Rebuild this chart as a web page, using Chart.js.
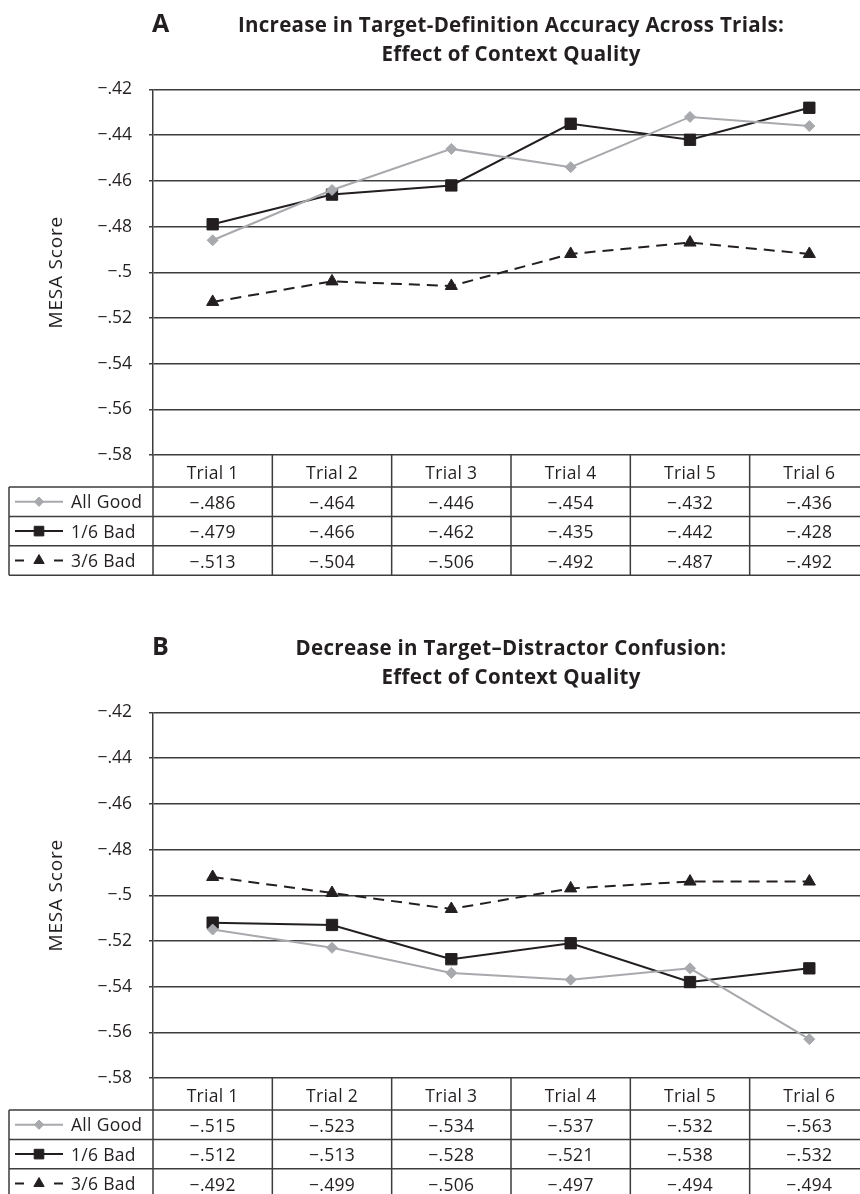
<!DOCTYPE html>
<html>
<head>
<meta charset="utf-8">
<script src="https://cdn.jsdelivr.net/npm/chart.js@4.4.1/dist/chart.umd.min.js"></script>
<style>
  html, body { margin: 0; padding: 0; background: #fff; overflow: hidden; }
  #page { width: 860px; height: 1194px; overflow: hidden; position: relative; }
  .panel { position: absolute; left: 0; width: 880px; }
  #panel-a { top: 0; }
  #panel-b { top: 623px; }
</style>
</head>
<body>
<div id="page">
  <div class="panel" id="panel-a"><canvas id="chart-a" width="880" height="623"></canvas></div>
  <div class="panel" id="panel-b"><canvas id="chart-b" width="880" height="615"></canvas></div>
</div>
<script>
const trials = ["Trial 1", "Trial 2", "Trial 3", "Trial 4", "Trial 5", "Trial 6"];
const seriesNames = ["All Good", "1/6 Bad", "3/6 Bad"];

// panel A: target-definition accuracy
const allGoodA = [-0.486, -0.464, -0.446, -0.454, -0.432, -0.436];
const oneBadA = [-0.479, -0.466, -0.462, -0.435, -0.442, -0.428];
const threeBadA = [-0.513, -0.504, -0.506, -0.492, -0.487, -0.492];

// panel B: target-distractor confusion
const allGoodB = [-0.515, -0.523, -0.534, -0.537, -0.532, -0.563];
const oneBadB = [-0.512, -0.513, -0.528, -0.521, -0.538, -0.532];
const threeBadB = [-0.492, -0.499, -0.506, -0.497, -0.494, -0.494];

const yMin = -0.58, yMax = -0.42, yStep = 0.02;
const yTitle = "MESA Score";

const INK = "#231f20";
const GRAY = "#a7a9ac";
const RULE = "#3d3d3d";
const FONT = "'Open Sans', Lato, sans-serif";

function fmtScore(v) {
  const s = (Math.round(v * 1000) / 1000).toString();
  return s.replace(/^-0\./, "\u2212.").replace(/^0\./, ".");
}

function makeDatasets(good, one, three) {
  return [
    {
      label: seriesNames[0], data: good,
      borderColor: GRAY, backgroundColor: GRAY, borderWidth: 2,
      pointStyle: "rectRot", pointRadius: 5.5, pointBorderWidth: 1,
    },
    {
      label: seriesNames[1], data: one,
      borderColor: INK, backgroundColor: INK, borderWidth: 2,
      pointStyle: "rect", pointRadius: 8, pointBorderWidth: 1,
    },
    {
      label: seriesNames[2], data: three,
      borderColor: INK, backgroundColor: INK, borderWidth: 2, borderDash: [11, 7],
      pointStyle: "triangle", pointRadius: 7, pointBorderWidth: 1,
    },
  ];
}

// title, y title and the data table under the plot
const panelDecor = {
  id: "panelDecor",
  afterDraw(chart, args, opts) {
    const { ctx, chartArea: ca } = chart;
    const n = chart.data.labels.length;
    const binW = (ca.right - ca.left) / n;
    const headBot = ca.bottom + 32;
    const rowH = 29.4;
    const dsets = chart.data.datasets;
    const tableBot = headBot + rowH * dsets.length;

    ctx.save();
    ctx.fillStyle = INK;
    ctx.textBaseline = "alphabetic";

    ctx.font = `bold 25px ${FONT}`;
    ctx.textAlign = "left";
    ctx.fillText(opts.letter, 152, 32);

    ctx.font = `bold 20.5px ${FONT}`;
    ctx.textAlign = "center";
    ctx.letterSpacing = "0.3px";
    const cx = (ca.left + ca.right) / 2;
    opts.title.forEach((line, i) => ctx.fillText(line, cx, 32 + i * 28.5));

    ctx.save();
    ctx.font = `19px ${FONT}`;
    ctx.letterSpacing = "0.8px";
    ctx.translate(57, (ca.top + ca.bottom) / 2);
    ctx.rotate(-Math.PI / 2);
    ctx.textBaseline = "middle";
    ctx.fillText(yTitle, 0, 0);
    ctx.restore();

    // table rules
    ctx.strokeStyle = RULE;
    ctx.lineWidth = 1.5;
    ctx.beginPath();
    for (let r = 0; r <= dsets.length; r++) {
      const y = headBot + r * rowH;
      ctx.moveTo(9, y);
      ctx.lineTo(ca.right, y);
    }
    ctx.moveTo(9, headBot);
    ctx.lineTo(9, tableBot);
    for (let i = 0; i <= n; i++) {
      const x = ca.left + i * binW;
      ctx.moveTo(x, ca.bottom);
      ctx.lineTo(x, tableBot);
    }
    ctx.stroke();

    // header and values
    ctx.font = `17.5px ${FONT}`;
    ctx.letterSpacing = "0.3px";
    ctx.textAlign = "center";
    const xs = chart.scales.x;
    chart.data.labels.forEach((lab, i) => {
      ctx.fillText(lab, xs.getPixelForValue(i), ca.bottom + 23.5);
    });
    dsets.forEach((ds, r) => {
      const base = headBot + r * rowH + 22;
      ds.data.forEach((v, i) => ctx.fillText(fmtScore(v), xs.getPixelForValue(i), base));
    });

    // legend column
    dsets.forEach((ds, r) => {
      const mid = headBot + r * rowH + rowH / 2;
      ctx.save();
      ctx.strokeStyle = ds.borderColor;
      ctx.lineWidth = 2;
      ctx.setLineDash(ds.borderDash ? [9, 30] : []);
      ctx.beginPath();
      ctx.moveTo(15, mid);
      ctx.lineTo(63, mid);
      ctx.stroke();
      ctx.setLineDash([]);
      ctx.fillStyle = ds.backgroundColor;
      ctx.lineWidth = 1;
      Chart.helpers.drawPoint(ctx, {
        pointStyle: ds.pointStyle, radius: ds.pointRadius * 0.85, rotation: 0, borderWidth: 1,
      }, 39, mid);
      ctx.restore();
      ctx.textAlign = "left";
      ctx.fillStyle = INK;
      ctx.fillText(ds.label, 71, mid + 6.5);
    });
    ctx.letterSpacing = "0px";
    ctx.restore();
  },
};

function makeChart(id, height, letter, title, datasets) {
  return new Chart(document.getElementById(id), {
    type: "line",
    data: { labels: trials, datasets },
    plugins: [panelDecor],
    options: {
      responsive: false,
      animation: false,
      devicePixelRatio: 1,
      layout: { padding: { top: 89.5, right: 11, bottom: height - 455, left: 0 } },
      plugins: {
        legend: { display: false },
        tooltip: { enabled: false },
        panelDecor: { letter, title },
      },
      scales: {
        x: { type: "category", offset: true, display: false },
        y: {
          min: yMin,
          max: yMax,
          afterFit: (s) => { s.width = 153; },
          ticks: {
            stepSize: yStep,
            padding: 17,
            color: INK,
            font: { family: FONT, size: 17.5 },
            callback: (v) => fmtScore(v),
          },
          grid: { color: RULE, lineWidth: 1.5, tickLength: 4, drawTicks: true },
          border: { color: RULE, width: 1.5 },
        },
      },
    },
  });
}

makeChart("chart-a", 623, "A",
  ["Increase in Target-Definition Accuracy Across Trials:", "Effect of Context Quality"],
  makeDatasets(allGoodA, oneBadA, threeBadA));

makeChart("chart-b", 615, "B",
  ["Decrease in Target\u2013Distractor Confusion:", "Effect of Context Quality"],
  makeDatasets(allGoodB, oneBadB, threeBadB));
</script>
</body>
</html>
